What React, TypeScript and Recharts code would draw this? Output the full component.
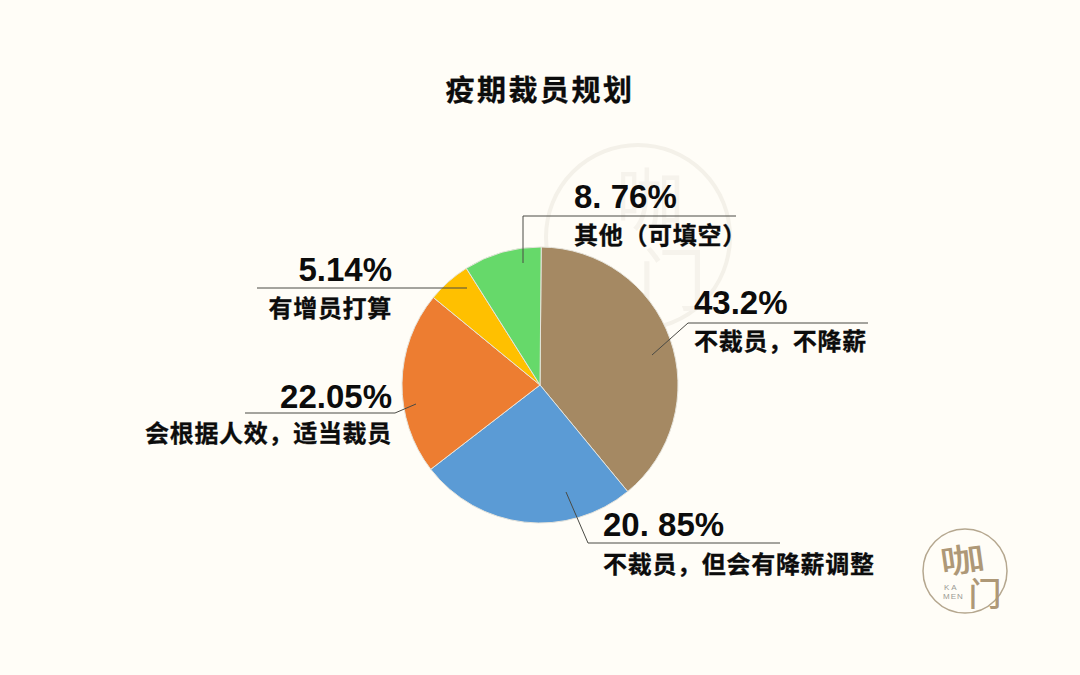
import { Cell, Customized, Pie, PieChart } from "recharts"

const cjk = "'Noto Sans CJK SC', sans-serif"
const latin = "'Liberation Sans', Arial, sans-serif"

// slice sizes as drawn (the printed percentages in the source do not match its own slices)
const names = ["不裁员，不降薪", "不裁员，但会有降薪调整", "会根据人效，适当裁员", "有增员打算", "其他（可填空）"]
const sliceValues = [38.9, 25.5, 21.4, 5.1, 9.1]
const percentLabels = ["43.2%", "20. 85%", "22.05%", "5.14%", "8. 76%"]
const colors = ["#a58963", "#5b9bd5", "#ed7d31", "#ffc000", "#66d96a"]

const chartData = names.map((name, i) => ({ name, value: sliceValues[i] }))

// label placement, same order as names
const labelX = [694, 603, 392, 392, 574]
const labelAnchor = ["start", "start", "end", "end", "start"]
const percentY = [314, 536, 408, 281, 208]
const nameY = [350, 573, 442, 317, 244]
const leaderLines = [
    "652,355 688,323 868,323",
    "566,492 588,543 780,543",
    "416,404 395,413 245,413",
    "467,288 257,288",
    "523,263 523,216 736,216",
]

function SliceLabel({ index }: { index: number }) {
    return (
        <g>
            <polyline points={leaderLines[index]} fill="none" stroke="#4a4a44" strokeWidth={1} />
            <text x={labelX[index]} y={percentY[index]} textAnchor={labelAnchor[index] as any}
                fontFamily={latin} fontWeight={700} fontSize={33} fill="#0c0c0c">
                {percentLabels[index]}
            </text>
            <text x={labelX[index]} y={nameY[index]} textAnchor={labelAnchor[index] as any}
                fontFamily={cjk} fontWeight={700} fontSize={24} letterSpacing={0.7} fill="#0c0c0c"
                stroke="#0c0c0c" strokeWidth={0.3}>
                {names[index]}
            </text>
        </g>
    )
}

function Watermark() {
    return (
        <g fontFamily={cjk} fill="#f6f3ec">
            <circle cx={638} cy={237} r={92} fill="none" stroke="#f4f1e9" strokeWidth={4} />
            <text x={650} y={225} fontSize={68} textAnchor="middle">咖</text>
            <text x={672} y={305} fontSize={68} textAnchor="middle">门</text>
        </g>
    )
}

function Logo() {
    return (
        <g fill="#ae9877">
            <circle cx={965} cy={571} r={42} fill="none" stroke="#b5a78f" strokeWidth={1.5} />
            <text x={0} y={0} transform="translate(964,572) rotate(-8) scale(1.35,1)" fontFamily={cjk} fontWeight={500} fontSize={33} textAnchor="middle">咖</text>
            <text x={985} y={606} fontFamily={cjk} fontWeight={500} fontSize={33} textAnchor="middle">门</text>
            <text x={944} y={590} fontFamily={latin} fontSize={8} fill="#9a9a94" letterSpacing={2}>KA</text>
            <text x={943} y={599} fontFamily={latin} fontSize={8} fill="#9a9a94" letterSpacing={1}>MEN</text>
        </g>
    )
}

export default function App() {
    return (
        <div style={{ position: "absolute", left: 0, top: 0, width: 1080, height: 675, background: "#fffdf7" }}>
            <PieChart width={1080} height={675} margin={{ top: 0, right: 0, bottom: 0, left: 0 }}>
                <Customized component={<Watermark />} />
                <text x={540} y={101} textAnchor="middle" fontFamily={cjk} fontWeight={700} fontSize={29} letterSpacing={2.5} fill="#0c0c0c"
                    stroke="#0c0c0c" strokeWidth={0.3}>
                    疫期裁员规划
                </text>
                <Pie
                    data={chartData}
                    dataKey="value"
                    nameKey="name"
                    cx={540}
                    cy={385}
                    outerRadius={138}
                    startAngle={89.5}
                    endAngle={-270.5}
                    stroke="#e6e4dc"
                    strokeWidth={1}
                    isAnimationActive={false}
                    labelLine={false}
                    label={(props: any) => <SliceLabel index={props.index} />}
                >
                    {chartData.map((d, i) => <Cell key={d.name} fill={colors[i]} />)}
                </Pie>
                <Customized component={<Logo />} />
            </PieChart>
        </div>
    )
}
